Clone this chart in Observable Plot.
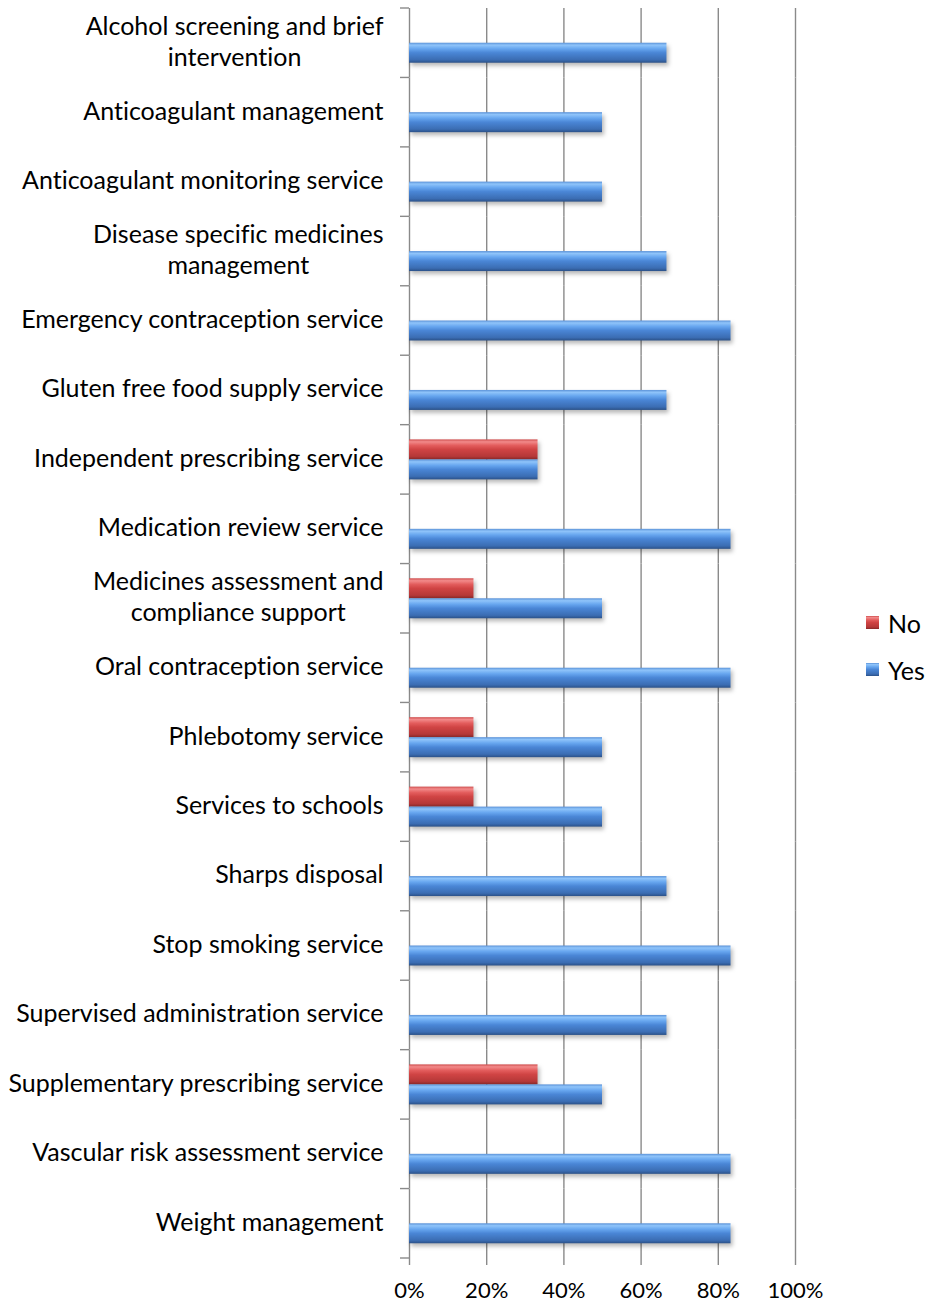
<!DOCTYPE html>
<html>
<head>
<meta charset="utf-8">
<script src="https://cdn.jsdelivr.net/npm/d3@7"></script>
<script src="https://cdn.jsdelivr.net/npm/@observablehq/plot@0.6"></script>
<style>
  body { margin: 0; background: #fff; }
  #chart { position: relative; width: 929px; height: 1306px; font-family: Lato, "Open Sans", sans-serif; color: #000; font-variant-ligatures: none; }
  #chart > svg.plot { position: absolute; left: 0; top: 0; }
  .legend { position: absolute; left: 866px; top: 599px; font-size: 25px; }
  .legend .item { display: flex; align-items: center; height: 47px; }
  .legend svg { margin-right: 9px; }
</style>
</head>
<body>
<!-- shared paint servers for the bevelled bars -->
<svg width="0" height="0" style="position:absolute">
  <defs>
    <linearGradient id="barYes" x1="0" y1="0" x2="0" y2="1">
      <stop offset="0" stop-color="#5b92d8"/>
      <stop offset="0.12" stop-color="#8fc4fa"/>
      <stop offset="0.3" stop-color="#67a6ef"/>
      <stop offset="0.5" stop-color="#4a86d6"/>
      <stop offset="0.85" stop-color="#3b6db3"/>
      <stop offset="1" stop-color="#2b5188"/>
    </linearGradient>
    <linearGradient id="barNo" x1="0" y1="0" x2="0" y2="1">
      <stop offset="0" stop-color="#cf4f4f"/>
      <stop offset="0.12" stop-color="#f28a8a"/>
      <stop offset="0.3" stop-color="#e35d5d"/>
      <stop offset="0.5" stop-color="#d04444"/>
      <stop offset="0.85" stop-color="#b53838"/>
      <stop offset="1" stop-color="#862828"/>
    </linearGradient>
  </defs>
</svg>
<div id="chart"></div>
<script>
// Services offered (share of respondents answering Yes / No)
const categories = [
  "Alcohol screening and brief\nintervention",
  "Anticoagulant management",
  "Anticoagulant monitoring service",
  "Disease specific medicines\nmanagement",
  "Emergency contraception service",
  "Gluten free food supply service",
  "Independent prescribing service",
  "Medication review service",
  "Medicines assessment and\ncompliance support",
  "Oral contraception service",
  "Phlebotomy service",
  "Services to schools",
  "Sharps disposal",
  "Stop smoking service",
  "Supervised administration service",
  "Supplementary prescribing service",
  "Vascular risk assessment service",
  "Weight management"
];
const yesValues = [0.667, 0.5, 0.5, 0.667, 0.833, 0.667, 0.333, 0.833, 0.5, 0.833, 0.5, 0.5, 0.667, 0.833, 0.667, 0.5, 0.833, 0.833];
const noValues  = [0, 0, 0, 0, 0, 0, 0.333, 0, 0.167, 0, 0.167, 0.167, 0, 0, 0, 0.333, 0, 0];
const seriesNames = ["No", "Yes"];
const seriesFills = ["url(#barNo)", "url(#barYes)"];
const xTicks = [0, 0.2, 0.4, 0.6, 0.8, 1];

const rows = categories.flatMap((category, i) => [
  {category, series: "No", value: noValues[i]},
  {category, series: "Yes", value: yesValues[i]}
]);

const gridColor = "#8a8a8a";
const labelSize = 25;
const tickSize = 22;

const chart = Plot.plot({
  width: 929,
  height: 1306,
  marginLeft: 409,
  marginRight: 134,
  marginTop: 8,
  marginBottom: 48,
  style: {fontFamily: "Lato, 'Open Sans', sans-serif", fontSize: `${tickSize}px`, color: "#000", background: "transparent", overflow: "visible"},
  fy: {domain: categories, padding: 0, round: false, axis: null},
  y: {domain: seriesNames, paddingInner: 0, paddingOuter: 0.736, round: false, axis: null},
  x: {domain: [0, 1], axis: null},
  color: {domain: seriesNames, range: seriesFills},
  marks: [
    Plot.gridX(xTicks, {stroke: gridColor, strokeOpacity: 1, strokeWidth: 1.4}),
    Plot.axisX(xTicks, {
      label: null,
      tickFormat: d3.format(".0%"),
      tickSize: 7,
      tickPadding: 17,
      stroke: gridColor,
      strokeWidth: 1.4,
      fontSize: tickSize
    }),
    Plot.axisFy({
      anchor: "left",
      label: null,
      tickSize: 0,
      tickPadding: 26,
      dy: -3,
      fontSize: labelSize,
      lineHeight: 31 / labelSize
    }),
    Plot.barX(rows, {
      filter: (d) => d.value > 0,
      fy: "category",
      y: "series",
      x: "value",
      fill: "series",
      imageFilter: "drop-shadow(2px 3px 2px rgba(0,0,0,0.28))"
    })
  ]
});

const root = document.getElementById("chart");
root.appendChild(chart);

// Centre the lines of wrapped category labels on one another (right edge stays on the widest line)
d3.select(chart).selectAll('g[aria-label="fy-axis tick label"] text').each(function () {
  const spans = Array.from(this.querySelectorAll("tspan"));
  if (spans.length < 2) return;
  const w = d3.max(spans, (s) => s.getComputedTextLength());
  this.setAttribute("text-anchor", "middle");
  spans.forEach((s) => s.setAttribute("x", -w / 2));
});

// Short category-boundary ticks on the left axis, taken from the fy band scale
const fy = chart.scale("fy");
const xs = chart.scale("x");
const x0 = xs.apply(0);
const edges = fy.domain.map((d) => fy.apply(d)).concat([fy.apply(fy.domain[fy.domain.length - 1]) + fy.bandwidth]);
d3.select(chart).append("g")
  .attr("stroke", gridColor)
  .attr("stroke-width", 1.4)
  .selectAll("line")
  .data(edges)
  .join("line")
  .attr("x1", x0 - 9)
  .attr("x2", x0)
  .attr("y1", (d) => d)
  .attr("y2", (d) => d);

// Legend at the right, built from the same series arrays
const legend = d3.select(root).append("div").attr("class", "legend");
const items = legend.selectAll(".item").data(seriesNames).join("div").attr("class", "item");
items.append("svg").attr("width", 13).attr("height", 13)
  .append("rect").attr("width", 13).attr("height", 13)
  .attr("fill", (d, i) => seriesFills[i]);
items.append("span").text((d) => d);
</script>
</body>
</html>
